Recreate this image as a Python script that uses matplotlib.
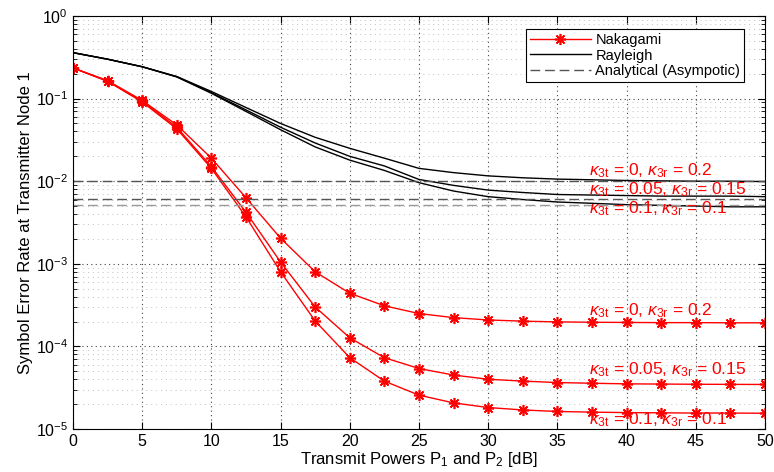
import matplotlib
matplotlib.use("Agg")
import matplotlib.pyplot as plt
import numpy as np
from matplotlib.ticker import LogLocator, FixedLocator, NullFormatter

plt.rcParams['font.family'] = ['Liberation Sans', 'DejaVu Sans']
plt.rcParams['mathtext.fontset'] = 'custom'
plt.rcParams['mathtext.rm'] = 'Liberation Sans'
plt.rcParams['mathtext.it'] = 'Liberation Sans:italic'

# Puissances d'emission (dB)
p_db = np.arange(0, 50.1, 2.5)

# SER Nakagami pour les trois couples (kappa_3t, kappa_3r)
ser_nak_0_02 = [0.235, 0.165, 0.095, 0.048, 0.019, 0.0063, 0.00204, 8.0e-4, 4.4e-4, 3.1e-4, 2.5e-4,
                2.23e-4, 2.09e-4, 2.02e-4, 1.98e-4, 1.96e-4, 1.95e-4, 1.94e-4, 1.94e-4, 1.93e-4, 1.93e-4]
ser_nak_005_015 = [0.235, 0.163, 0.093, 0.045, 0.015, 0.0042, 0.00105, 3.0e-4, 1.27e-4, 7.3e-5, 5.4e-5,
                   4.5e-5, 4.0e-5, 3.8e-5, 3.65e-5, 3.58e-5, 3.52e-5, 3.5e-5, 3.48e-5, 3.47e-5, 3.46e-5]
ser_nak_01_01 = [0.235, 0.162, 0.091, 0.043, 0.0143, 0.0037, 0.0008, 2.03e-4, 7.3e-5, 3.8e-5, 2.57e-5,
                 2.07e-5, 1.82e-5, 1.7e-5, 1.63e-5, 1.6e-5, 1.58e-5, 1.57e-5, 1.56e-5, 1.56e-5, 1.55e-5]

# SER Rayleigh
ser_ray_0_02 = [0.36, 0.30, 0.243, 0.185, 0.122, 0.078, 0.050, 0.034, 0.025, 0.019, 0.0143,
                0.0127, 0.0116, 0.0110, 0.0106, 0.0104, 0.0102, 0.0101, 0.0100, 0.0100, 0.0099]
ser_ray_005_015 = [0.36, 0.30, 0.243, 0.184, 0.118, 0.073, 0.045, 0.029, 0.020, 0.0153, 0.0105,
                   0.0089, 0.0078, 0.0073, 0.0069, 0.0068, 0.0067, 0.0066, 0.0066, 0.0066, 0.0065]
ser_ray_01_01 = [0.36, 0.30, 0.243, 0.183, 0.116, 0.070, 0.042, 0.026, 0.018, 0.0135, 0.0096,
                 0.0076, 0.0065, 0.0060, 0.0056, 0.0054, 0.0052, 0.0051, 0.0050, 0.0049, 0.0049]

# Asymptotes analytiques
asymptotes = [0.0100, 0.0061, 0.0051]
couleurs_asym = ['#555555', '#555555', '#999999']

labels_kappa = [r'$\kappa_{\mathregular{3t}}$ = 0, $\kappa_{\mathregular{3r}}$ = 0.2',
                r'$\kappa_{\mathregular{3t}}$ = 0.05, $\kappa_{\mathregular{3r}}$ = 0.15',
                r'$\kappa_{\mathregular{3t}}$ = 0.1, $\kappa_{\mathregular{3r}}$ = 0.1']
y_labels_haut = [0.0135, 0.0078, 0.0046]
y_labels_bas = [2.7e-4, 5.3e-5, 1.3e-5]

fig = plt.figure(figsize=(7.74, 4.72), dpi=100)
ax = fig.add_axes([0.0943, 0.0911, 0.894, 0.875])

asterisk = (8, 2, 0)
for i, ser in enumerate([ser_nak_0_02, ser_nak_005_015, ser_nak_01_01]):
    ax.semilogy(p_db, ser, color='red', lw=1.0, marker=asterisk, ms=8, mew=1.2,
                label='Nakagami' if i == 0 else None)

for i, ser in enumerate([ser_ray_0_02, ser_ray_005_015, ser_ray_01_01]):
    ax.semilogy(p_db, ser, color='black', lw=1.0, label='Rayleigh' if i == 0 else None)

for i, (a, c) in enumerate(zip(asymptotes, couleurs_asym)):
    ax.axhline(a, color=c, lw=1.0, dashes=(7, 3.5),
               label='Analytical (Asympotic)' if i == 0 else None)

for lab, y in zip(labels_kappa, y_labels_haut):
    ax.text(37.3, y, lab, color='red', fontsize=12.5, va='center')
for lab, y in zip(labels_kappa, y_labels_bas):
    ax.text(37.3, y, lab, color='red', fontsize=12.5, va='center')

ax.set_xlim(0, 50)
ax.set_ylim(1e-5, 1)
ax.xaxis.set_major_locator(FixedLocator(np.arange(0, 51, 5)))
ax.yaxis.set_major_locator(LogLocator(base=10, numticks=10))
ax.yaxis.set_minor_locator(LogLocator(base=10, subs=np.arange(2, 10), numticks=10))
ax.yaxis.set_minor_formatter(NullFormatter())

ax.grid(True, which='major', linestyle=(0, (1, 3)), color='#444444', lw=0.8)
ax.grid(True, which='minor', axis='y', linestyle=(0, (1, 4)), color='#c0c0c0', lw=0.7)
ax.tick_params(which='both', direction='in', top=True, right=True, labelsize=11.5)
ax.tick_params(which='major', length=5)
ax.tick_params(which='minor', length=3)

ax.set_xlabel(r'Transmit Powers P$_1$ and P$_2$ [dB]', fontsize=12, labelpad=1)
ax.set_ylabel('Symbol Error Rate at Transmitter Node 1', fontsize=12, labelpad=2,
              family=['Liberation Sans Narrow', 'Liberation Sans'])

leg = ax.legend(loc='upper right', fontsize=10.5, fancybox=False, edgecolor='black',
                framealpha=1, bbox_to_anchor=(0.98, 0.985), handlelength=4.2,
                labelspacing=0.1, borderpad=0.25, handletextpad=0.3)
leg.get_frame().set_linewidth(0.8)

fig.savefig('out.png', dpi=100)
